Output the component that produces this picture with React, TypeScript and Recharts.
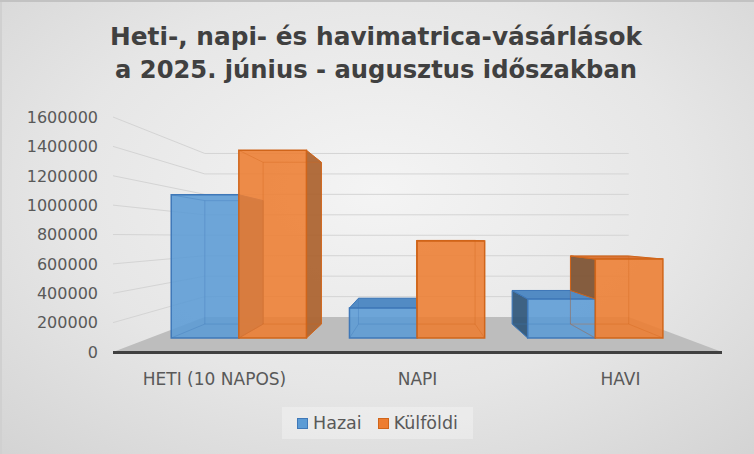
import { BarChart, Bar, XAxis, YAxis, CartesianGrid } from "recharts";

const categories = ["HETI (10 NAPOS)", "NAPI", "HAVI"];
const hazai = [1110000, 232000, 302000];
const kulfoldi = [1455000, 752000, 612000];
const yTicks = [0, 200000, 400000, 600000, 800000, 1000000, 1200000, 1400000, 1600000];
const seriesNames = ["Hazai", "Külföldi"];
const titleLines = [
  "Heti-, napi- és havimatrica-vásárlások",
  "a 2025. június - augusztus időszakban",
];

const data = categories.map((name, i) => ({
  name,
  hazai: hazai[i],
  kulfoldi: kulfoldi[i],
}));

// perspective of the excel 3d chart: vanishing point + depth factors
const VP = { x: 415, y: 237 };
const F_FRONT = 0.878;
const F_BACK = 0.757;
const F_WALL = 0.696;
const PLOT_BOTTOM = 352;

const proj = (f: number, X: number, Y: number) => [
  VP.x + (X - VP.x) * f,
  VP.y + (Y - VP.y) * f,
];
const pts = (arr: number[][]) => arr.map((p) => p.join(",")).join(" ");

const BLUE = {
  front: "#5b9bd5",
  stroke: "#3f78b8",
  left: "#2b5378",
  right: "#3b6c9c",
  top: "#4a86c2",
};
const ORANGE = {
  front: "#ed7d31",
  stroke: "#d0651a",
  left: "#7a4e2c",
  right: "#ad6533",
  top: "#d9702f",
};

const Box3D = (props: any) => {
  const { x, y, width, height, payload, colors, ownKey, underKey } = props;
  if (!height || height <= 0) return null;
  const X0 = x;
  const X1 = x + width;
  const Yt = y;
  const Yb = y + height;
  const fr = (X: number, Y: number) => proj(F_FRONT, X, Y);
  const bk = (X: number, Y: number) => proj(F_BACK, X, Y);

  const faces: any[] = [];
  if (X0 > VP.x + 1) {
    let Yc = Yb;
    if (underKey) {
      const ratio = height / payload[ownKey];
      Yc = Math.max(Yt, Yb - payload[underKey] * ratio);
    }
    faces.push(
      <polygon
        key="l"
        points={pts([fr(X0, Yt), bk(X0, Yt), bk(X0, Yc), fr(X0, Yc)])}
        fill={colors.left}
        fillOpacity={0.9}
        stroke={colors.stroke}
        strokeWidth={1}
      />
    );
  }
  if (X1 < VP.x - 1) {
    faces.push(
      <polygon
        key="r"
        points={pts([fr(X1, Yt), bk(X1, Yt), bk(X1, Yb), fr(X1, Yb)])}
        fill={colors.right}
        fillOpacity={0.95}
        stroke={colors.stroke}
        strokeWidth={1}
      />
    );
  }
  if (Yt > VP.y) {
    faces.push(
      <polygon
        key="t"
        points={pts([fr(X0, Yt), fr(X1, Yt), bk(X1, Yt), bk(X0, Yt)])}
        fill={colors.top}
        fillOpacity={0.95}
        stroke={colors.stroke}
        strokeWidth={1}
      />
    );
  }

  return (
    <g>
      {faces}
      <polygon
        points={pts([fr(X0, Yt), fr(X1, Yt), fr(X1, Yb), fr(X0, Yb)])}
        fill={colors.front}
        fillOpacity={0.88}
        stroke={colors.stroke}
        strokeWidth={1.5}
      />
      <polygon
        points={pts([bk(X0, Yt), bk(X1, Yt), bk(X1, Yb), bk(X0, Yb)])}
        fill="none"
        stroke={colors.stroke}
        strokeOpacity={0.35}
        strokeWidth={1}
      />
      <path
        d={`M${fr(X0, Yb).join(",")}L${bk(X0, Yb).join(",")}M${fr(X1, Yb).join(",")}L${bk(X1, Yb).join(",")}M${fr(X0, Yt).join(",")}L${bk(X0, Yt).join(",")}M${fr(X1, Yt).join(",")}L${bk(X1, Yt).join(",")}`}
        stroke={colors.stroke}
        strokeOpacity={0.35}
        strokeWidth={1}
      />
    </g>
  );
};

// grid line on the side wall + back wall, floor for the zero line
const WallLine = (props: any) => {
  const { x1, y1, x2 } = props;
  if (y1 >= PLOT_BOTTOM - 0.5) {
    return (
      <g>
        <polygon
          points={pts([
            [x1, y1],
            proj(F_WALL, x1, y1),
            proj(F_WALL, x2, y1),
            [x2, y1],
          ])}
          fill="#bdbdbd"
        />
        <line x1={x1} y1={y1 + 0.5} x2={x2} y2={y1 + 0.5} stroke="#404040" strokeWidth={3} />
      </g>
    );
  }
  const back = proj(F_WALL, x1, y1);
  const backRight = proj(F_WALL, x2, y1);
  return (
    <path
      d={`M${x1},${y1}L${back.join(",")}L${backRight.join(",")}`}
      stroke="#d4d4d4"
      strokeWidth={1}
      fill="none"
    />
  );
};

const YTick = (props: any) => {
  const { x, y, payload } = props;
  return (
    <text
      x={x}
      y={y}
      dy="0.36em"
      textAnchor="end"
      fill="#595959"
      fontSize={16}
      fontFamily="'DejaVu Sans', sans-serif"
    >
      {payload.value}
    </text>
  );
};

const XTick = (props: any) => {
  const { x, y, payload } = props;
  return (
    <text
      x={x}
      y={y + 33}
      textAnchor="middle"
      fill="#595959"
      fontSize={17}
      fontFamily="'DejaVu Sans', sans-serif"
    >
      {payload.value}
    </text>
  );
};

export default function App() {
  return (
    <div
      style={{
        position: "absolute",
        left: 0,
        top: 0,
        width: 754,
        height: 454,
        overflow: "hidden",
        background:
          "radial-gradient(ellipse 75% 80% at 50% 42%, #f4f4f4 0%, #e6e6e6 55%, #d3d3d3 100%)",
        boxShadow: "inset 0 2px 0 #c2c2c2, inset 2px 0 0 #d0d0d0",
      }}
    >
      <BarChart
        width={754}
        height={454}
        data={data}
        margin={{ top: 117, right: 32, bottom: 62, left: 13 }}
        barCategoryGap="12%"
        barGap={0}
      >
        <CartesianGrid vertical={false} horizontal={(p: any) => {
          const { key, ...rest } = p;
          return <WallLine key={key} {...rest} />;
        }} />
        <XAxis
          dataKey="name"
          axisLine={false}
          tickLine={false}
          tickSize={0}
          tickMargin={0}
          height={40}
          interval={0}
          tick={<XTick />}
        />
        <YAxis
          domain={[0, 1600000]}
          ticks={yTicks}
          axisLine={false}
          tickLine={false}
          tickSize={0}
          tickMargin={15}
          width={100}
          interval={0}
          tick={<YTick />}
        />
        <Bar
          dataKey="hazai"
          name={seriesNames[0]}
          isAnimationActive={false}
          shape={(p: any) => <Box3D {...p} colors={BLUE} ownKey="hazai" />}
        />
        <Bar
          dataKey="kulfoldi"
          name={seriesNames[1]}
          isAnimationActive={false}
          shape={(p: any) => (
            <Box3D {...p} colors={ORANGE} ownKey="kulfoldi" underKey="hazai" />
          )}
        />
      </BarChart>

      <svg
        width={754}
        height={100}
        style={{ position: "absolute", left: 0, top: 0 }}
      >
        <text
          x={110}
          y={45}
          textLength={532}
          lengthAdjust="spacingAndGlyphs"
          fontSize={25}
          fontWeight="bold"
          fill="#404040"
          fontFamily="'DejaVu Sans', sans-serif"
        >
          {titleLines[0]}
        </text>
        <text
          x={115}
          y={78}
          textLength={522}
          lengthAdjust="spacingAndGlyphs"
          fontSize={25}
          fontWeight="bold"
          fill="#404040"
          fontFamily="'DejaVu Sans', sans-serif"
        >
          {titleLines[1]}
        </text>
      </svg>

      <div
        style={{
          position: "absolute",
          left: 282,
          top: 407,
          width: 191,
          height: 32,
          background: "rgba(255,255,255,0.3)",
          display: "flex",
          alignItems: "center",
          fontFamily: "'DejaVu Sans', sans-serif",
          fontSize: 17.5,
          color: "#595959",
        }}
      >
        {seriesNames.map((name, i) => {
          const c = i === 0 ? BLUE : ORANGE;
          return (
            <div
              key={name}
              style={{
                display: "flex",
                alignItems: "center",
                marginLeft: i === 0 ? 15 : 16,
              }}
            >
              <span
                style={{
                  display: "inline-block",
                  width: 9,
                  height: 9,
                  background: c.front,
                  border: `1px solid ${c.stroke}`,
                  marginRight: 5,
                }}
              />
              <span>{name}</span>
            </div>
          );
        })}
      </div>
    </div>
  );
}
